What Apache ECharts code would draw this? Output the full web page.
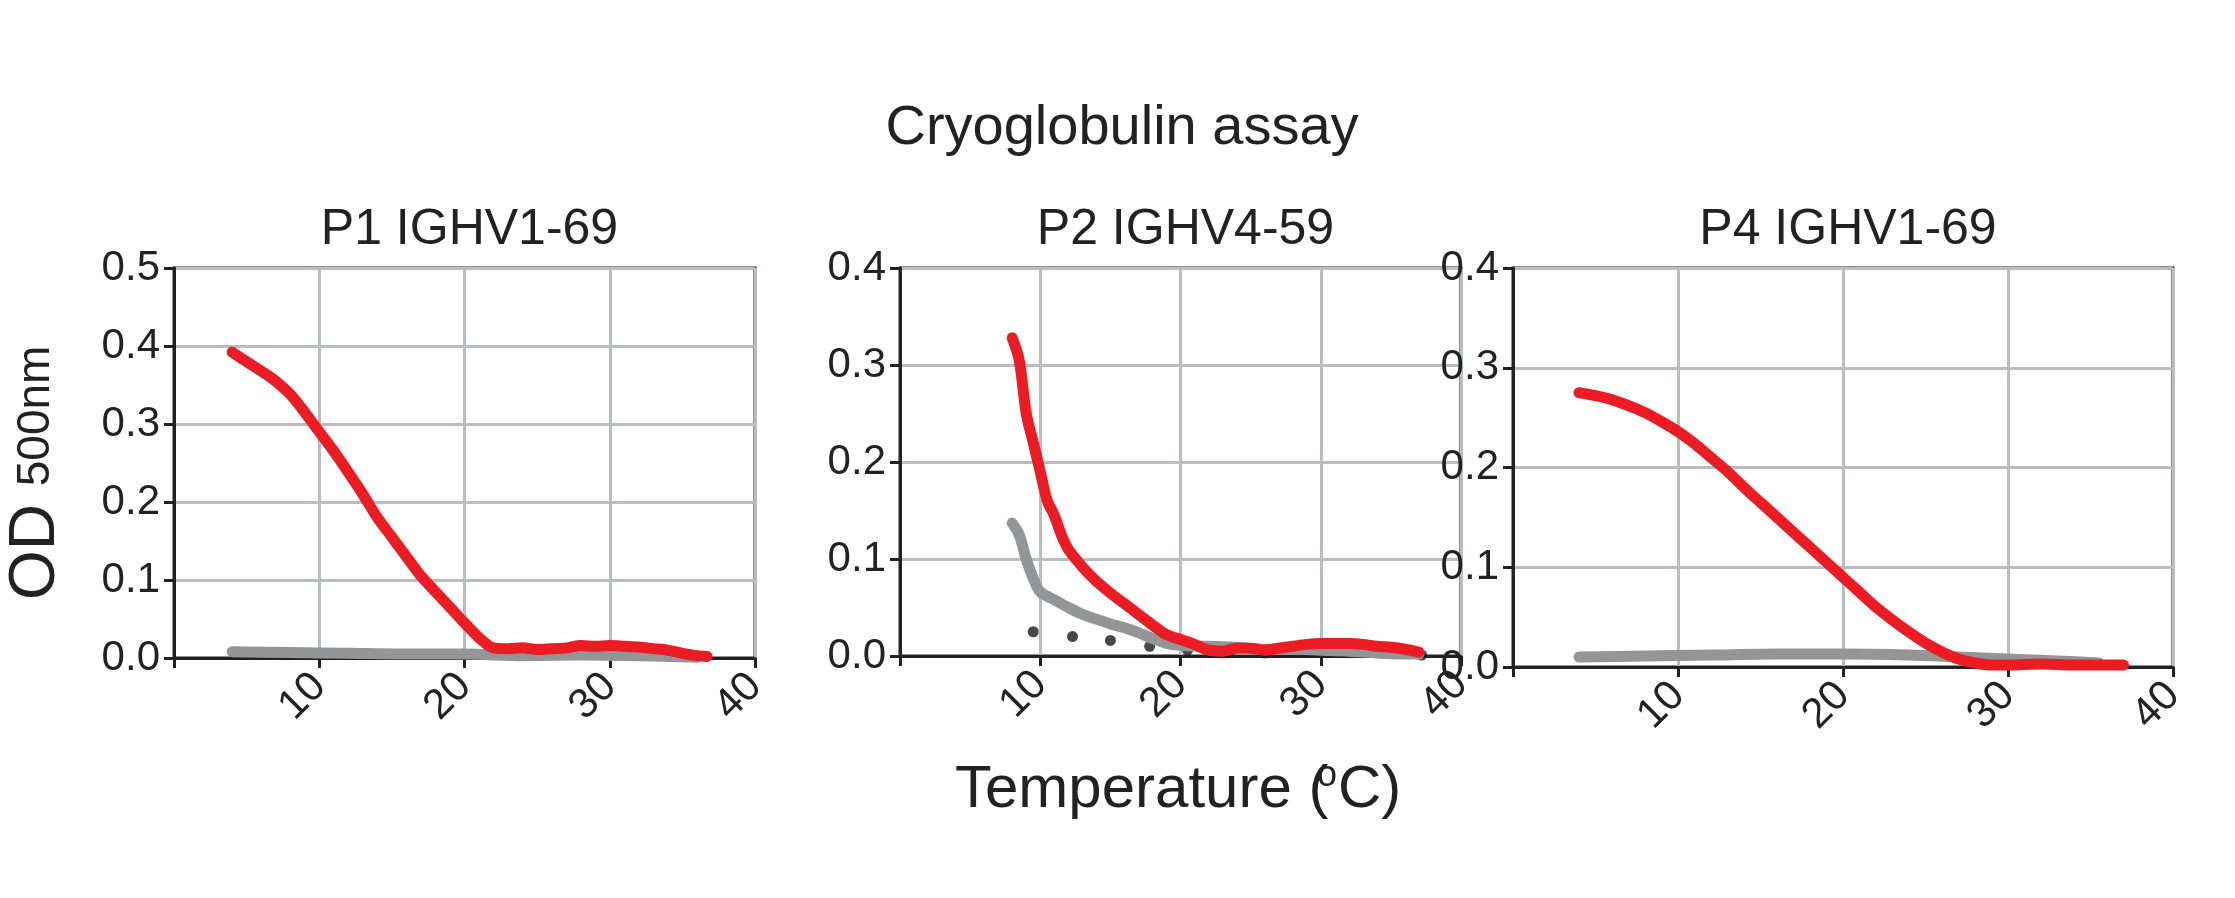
<!DOCTYPE html>
<html>
<head>
<meta charset="utf-8">
<script src="https://cdn.jsdelivr.net/npm/echarts@6/dist/echarts.min.js"></script>
<style>html,body{margin:0;background:#fff}#c{width:2235px;height:898px}</style>
</head>
<body>
<div id="c"></div>
<script>
// panel titles
const titles = ['P1 IGHV1-69', 'P2 IGHV4-59', 'P4 IGHV1-69'];
const yMaxes = [0.5, 0.4, 0.4];

// P1
const p1Red = [[4,0.392],[5,0.38],[6,0.368],[7,0.355],[8,0.338],[9,0.315],[10,0.29],[11,0.265],[12,0.238],[13,0.21],[14,0.18],[15,0.155],[16,0.13],[17,0.105],[18,0.085],[19,0.065],[20,0.045],[21,0.026],[22,0.013],[23,0.012],[24,0.013],[25,0.011],[26,0.012],[27,0.013],[28,0.016],[29,0.015],[30,0.016],[31,0.015],[32,0.014],[33,0.012],[34,0.01],[35,0.006],[36,0.003],[36.7,0.002]];
const p1Gray = [[4,0.008],[8,0.007],[12,0.006],[16,0.005],[20,0.005],[24,0.003],[28,0.004],[32,0.003],[36,0.001]];

// P2
const p2Red = [[8,0.328],[8.5,0.305],[9,0.25],[9.5,0.22],[10,0.19],[10.5,0.16],[11,0.145],[11.5,0.125],[12,0.11],[13,0.092],[14,0.077],[15,0.065],[16,0.054],[17,0.043],[18,0.032],[19,0.022],[20,0.017],[21,0.012],[22,0.006],[23,0.005],[24,0.008],[25,0.008],[26,0.006],[27,0.008],[28,0.01],[29,0.012],[30,0.013],[31,0.013],[32,0.013],[33,0.012],[34,0.01],[35,0.009],[36,0.007],[37,0.004]];
const p2Gray = [[8,0.137],[8.5,0.125],[9,0.1],[9.5,0.08],[10,0.066],[11,0.058],[12,0.05],[13,0.043],[14,0.038],[15,0.033],[16,0.029],[17,0.024],[18,0.018],[19,0.013],[20,0.011],[22,0.01],[24,0.009],[26,0.007],[28,0.007],[30,0.006],[32,0.005],[34,0.003],[36,0.002],[37,0.002]];
const p2Dots = [[9.5,0.025],[12.3,0.02],[15,0.016],[17.8,0.01],[20.5,0.006],[23.5,0.004],[26,0.003],[29,0.004],[31.7,0.004],[34.5,0.003],[37.2,0.001]];

// P4
const p4Red = [[4,0.275],[5,0.272],[6,0.268],[7,0.262],[8,0.255],[9,0.246],[10,0.236],[11,0.224],[12,0.21],[13,0.196],[14,0.18],[15,0.165],[16,0.15],[17,0.135],[18,0.12],[19,0.105],[20,0.09],[21,0.075],[22,0.06],[23,0.047],[24,0.035],[25,0.024],[26,0.015],[27,0.008],[28,0.004],[29,0.002],[30,0.002],[32,0.003],[34,0.002],[36,0.002],[37,0.002]];
const p4Gray = [[4,0.01],[8,0.011],[12,0.012],[16,0.013],[20,0.013],[24,0.012],[27,0.01],[30,0.008],[33,0.006],[35.5,0.004]];

const boxes = [
  {left: 174, width: 581},
  {left: 900, width: 561},
  {left: 1513, width: 660}
];
const bottoms = [658, 656, 667];
const gridTop = 268;

const chart = echarts.init(document.getElementById('c'));
const grid = [], xAxis = [], yAxis = [], title = [];
boxes.forEach((b, i) => {
  grid.push({left: b.left, width: b.width, top: gridTop, height: bottoms[i] - gridTop,
    show: true, borderColor: '#222', borderWidth: 3});
  xAxis.push({gridIndex: i, type: 'value', min: 0, max: 40, interval: 10,
    axisLine: {lineStyle: {color: '#222', width: 3}},
    axisTick: {show: true, inside: false, length: 10, lineStyle: {color: '#222', width: 3}},
    splitLine: {lineStyle: {color: '#b9bcc2', width: 3}},
    axisLabel: {rotate: 45, color: '#222', fontSize: 42, fontFamily: 'Liberation Sans', margin: 22,
      formatter: v => v === 0 ? '' : String(v)}
  });
  yAxis.push({gridIndex: i, type: 'value', min: 0, max: yMaxes[i], interval: 0.1,
    axisLine: {show: true, lineStyle: {color: '#222', width: 3}},
    axisTick: {show: true, length: 10, lineStyle: {color: '#222', width: 3}},
    splitLine: {lineStyle: {color: '#b9bcc2', width: 3}},
    axisLabel: {color: '#222', fontSize: 42, fontFamily: 'Liberation Sans', margin: 14,
      formatter: v => v.toFixed(1)}
  });
  title.push({text: titles[i], left: b.left + b.width / 2, top: 200, textAlign: 'center',
    textStyle: {fontSize: 50, fontWeight: 'normal', color: '#222', fontFamily: 'Liberation Sans'}});
});
title.push({text: 'Cryoglobulin assay', left: 1117, top: 96, textAlign: 'center',
  textStyle: {fontSize: 56, fontWeight: 'normal', color: '#222', fontFamily: 'Liberation Sans'}});

function line(data, i, color) {
  return {type: 'line', xAxisIndex: i, yAxisIndex: i, data: data, showSymbol: false,
    smooth: 0.3, lineStyle: {color: color, width: 11, cap: 'round', join: 'round'}, z: color === '#ec1c24' ? 4 : 3};
}

chart.setOption({
  animation: false,
  title: title,
  grid: grid,
  xAxis: xAxis,
  yAxis: yAxis,
  graphic: [
    {type: 'text', x: 955, y: 760, style: {text: 'Temperature (', fontSize: 60, fill: '#222', fontFamily: 'Liberation Sans'}},
    {type: 'text', x: 1317, y: 758, style: {text: 'o', fontSize: 36, fill: '#222', fontFamily: 'Liberation Sans'}},
    {type: 'text', x: 1338, y: 760, style: {text: 'C)', fontSize: 60, fill: '#222', fontFamily: 'Liberation Sans'}},
    {type: 'text', x: 4, y: 600, rotation: Math.PI / 2, style: {
      rich: {a: {fontSize: 64, fill: '#222', fontFamily: 'Liberation Sans'}, b: {fontSize: 46, fill: '#222', fontFamily: 'Liberation Sans'}},
      text: '{a|OD }{b|500nm}'}}
  ],
  series: [
    line(p1Gray, 0, '#939598'), line(p1Red, 0, '#ec1c24'),
    line(p2Gray, 1, '#939598'),
    {type: 'scatter', xAxisIndex: 1, yAxisIndex: 1, data: p2Dots, symbolSize: 11, itemStyle: {color: '#1a1a1a'}, z: 2},
    line(p2Red, 1, '#ec1c24'),
    line(p4Gray, 2, '#939598'), line(p4Red, 2, '#ec1c24')
  ]
});
</script>
</body>
</html>
